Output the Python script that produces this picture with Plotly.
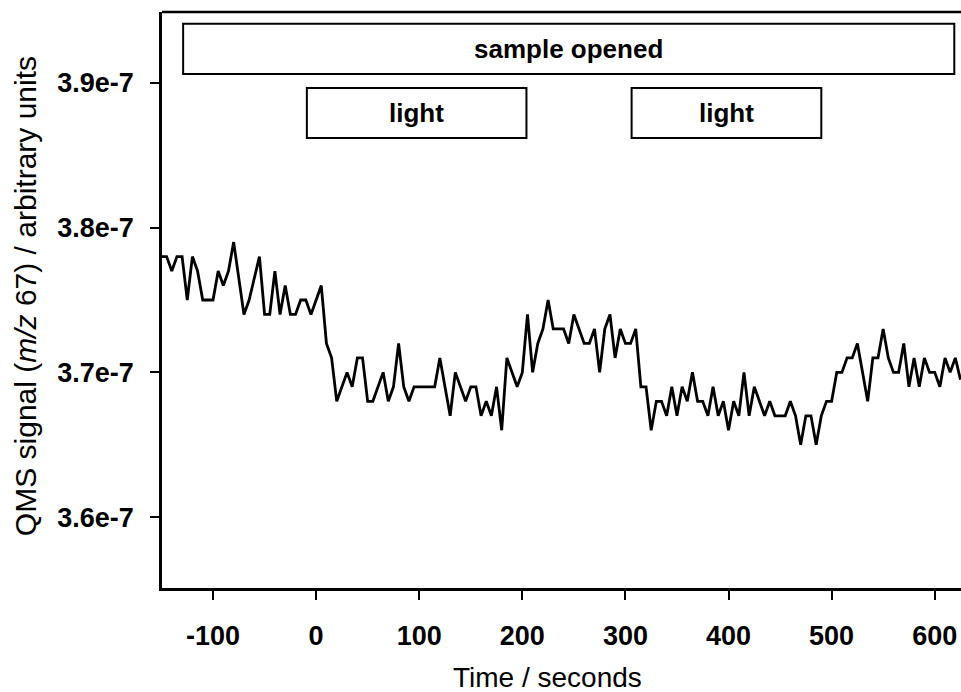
import plotly.graph_objects as go

# time (s) and QMS signal (arbitrary units)
time_s = [-150, -145, -140, -135, -130, -125, -120, -115, -110, -105, -100, -95, -90, -85, -80,
          -70, -65, -55, -50, -45, -40, -35, -30, -25, -20, -15, -10, -5, 5,
          10, 15, 20, 30, 35, 40, 45, 50, 55, 65, 70, 75, 80, 85, 90, 95, 100, 105, 110, 115,
          120, 130, 135, 140, 145, 150, 155, 160, 165, 170, 175, 180, 185, 195, 200, 205, 210,
          215, 220, 225, 230, 235, 240, 245, 250, 255, 260, 265, 270, 275, 280, 285, 290, 295,
          300, 305, 310, 315, 320, 325, 330, 335, 340, 345, 350, 355, 360, 365, 370, 375, 380,
          385, 390, 395, 400, 405, 410, 415, 420, 425, 430, 435, 440, 445, 450, 455, 460, 465,
          470, 475, 480, 485, 490, 495, 500, 505, 510, 515, 520, 525, 535, 540, 545, 550, 555,
          560, 565, 570, 575, 580, 585, 590, 595, 600, 605, 610, 615, 620, 625]
signal_e9 = [378, 378, 377, 378, 378, 375, 378, 377, 375, 375, 375, 377, 376, 377, 379,
             374, 375, 378, 374, 374, 377, 374, 376, 374, 374, 375, 375, 374, 376,
             372, 371, 368, 370, 369, 371, 371, 368, 368, 370, 368, 369, 372, 369, 368, 369, 369, 369, 369, 369,
             371, 367, 370, 369, 368, 369, 369, 367, 368, 367, 369, 366, 371, 369, 370, 374, 370,
             372, 373, 375, 373, 373, 373, 372, 374, 373, 372, 372, 373, 370, 373, 374, 371, 373,
             372, 372, 373, 369, 369, 366, 368, 368, 367, 369, 367, 369, 368, 370, 368, 368, 367,
             369, 367, 368, 366, 368, 367, 370, 367, 369, 368, 367, 368, 367, 367, 367, 368, 367,
             365, 367, 367, 365, 367, 368, 368, 370, 370, 371, 371, 372, 368, 371, 371, 373, 371,
             370, 370, 372, 369, 371, 369, 371, 370, 370, 369, 371, 370, 371, 369.5]
signal = [v * 1e-9 for v in signal_e9]

y_tickvals = [3.6e-7, 3.7e-7, 3.8e-7, 3.9e-7]
y_ticktext = ["3.6e-7", "3.7e-7", "3.8e-7", "3.9e-7"]
x_tickvals = [-100, 0, 100, 200, 300, 400, 500, 600]

x_title = "Time / seconds"
y_title = "QMS signal (<i>m/z</i> 67) / arbitrary units"

# event boxes: label, start, end, y-band
box_labels = ["sample opened", "light", "light"]
box_start = [-129, -9, 306]
box_end = [619, 204, 490]
box_ylo = [3.9062e-7, 3.862e-7, 3.862e-7]
box_yhi = [3.9408e-7, 3.8965e-7, 3.8965e-7]

fig = go.Figure()
fig.add_trace(go.Scatter(x=time_s, y=signal, mode="lines",
                         line=dict(color="black", width=2.8), showlegend=False,
                         hoverinfo="skip"))

for lab, x0, x1, y0, y1 in zip(box_labels, box_start, box_end, box_ylo, box_yhi):
    fig.add_shape(type="rect", x0=x0, x1=x1, y0=y0, y1=y1, xref="x", yref="y",
                  line=dict(color="black", width=2), fillcolor="white", layer="above")
    fig.add_annotation(x=(x0 + x1) / 2, y=(y0 + y1) / 2, text="<b>%s</b>" % lab,
                       showarrow=False, font=dict(family="Liberation Sans", size=26, color="black"),
                       xanchor="center", yanchor="middle")

# top frame line (right side is cropped in reference)
fig.add_shape(type="line", xref="paper", yref="paper", x0=0, x1=1, y0=1, y1=1,
              line=dict(color="black", width=2.5))

# axis titles
fig.add_annotation(xref="paper", yref="paper", x=0.483, y=-0.156, text=x_title,
                   showarrow=False, xanchor="center", yanchor="middle",
                   font=dict(family="Liberation Sans", size=28, color="black"))
fig.add_annotation(xref="paper", yref="paper", x=-0.17, y=0.507, text=y_title,
                   showarrow=False, xanchor="center", yanchor="middle", textangle=-90,
                   font=dict(family="Liberation Sans", size=30, color="black"))

fig.update_layout(
    width=961, height=692,
    margin=dict(l=162, r=0, t=12, b=104),
    paper_bgcolor="white", plot_bgcolor="white",
    font=dict(family="Liberation Sans", color="black"),
    xaxis=dict(range=[-149.5, 625.5], tickvals=x_tickvals,
               ticktext=["<b>%d</b>" % v for v in x_tickvals],
               ticks="outside", ticklen=9, ticklabelstandoff=13,
               tickwidth=2, tickcolor="black", showline=True, linecolor="black", linewidth=2.5,
               showgrid=False, zeroline=False,
               tickfont=dict(family="Liberation Sans", size=27, color="black")),
    yaxis=dict(range=[3.551e-7, 3.949e-7], tickvals=y_tickvals,
               ticktext=["<b>%s</b>" % t for t in y_ticktext],
               ticks="outside", ticklen=9, ticklabelstandoff=11, tickwidth=2, tickcolor="black",
               showline=True, linecolor="black", linewidth=2.5, showgrid=False, zeroline=False,
               tickfont=dict(family="Liberation Sans", size=27, color="black")),
)

fig.write_html("out.html")
